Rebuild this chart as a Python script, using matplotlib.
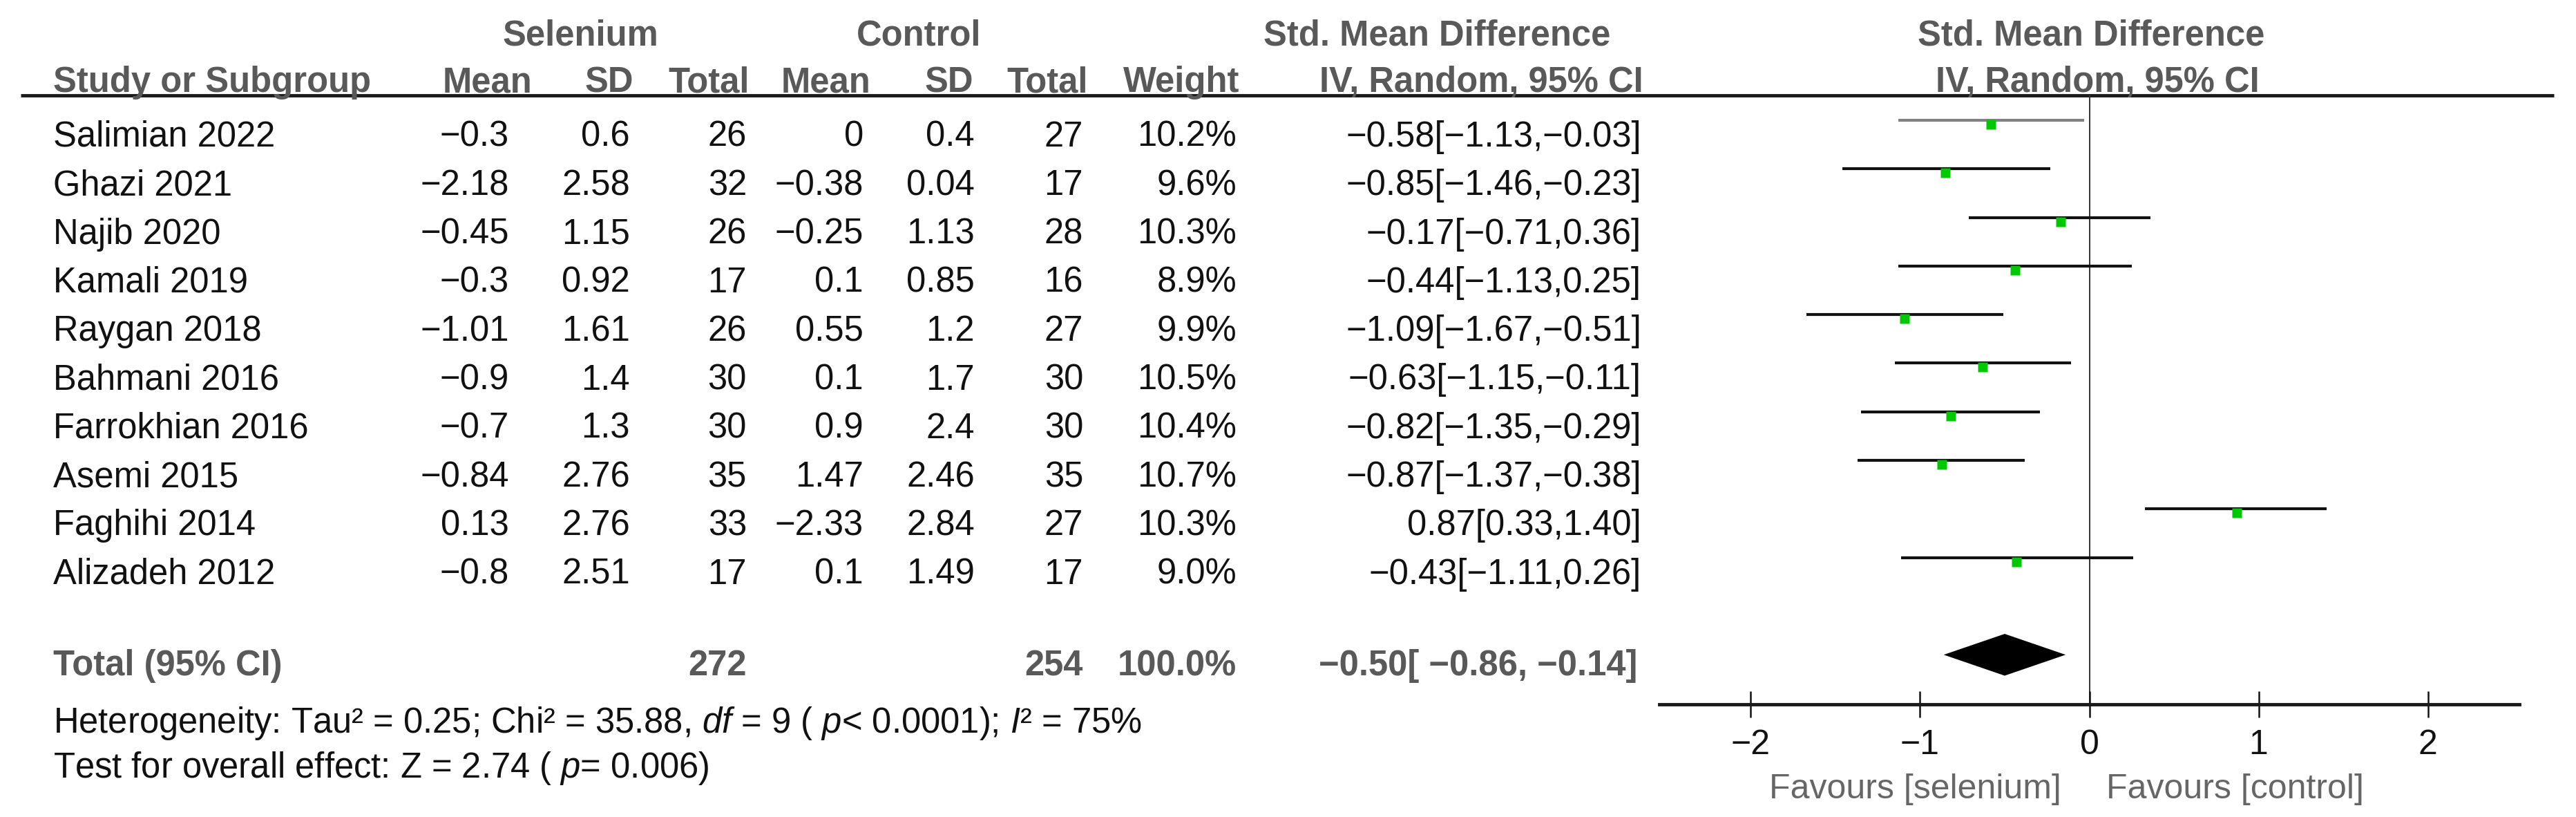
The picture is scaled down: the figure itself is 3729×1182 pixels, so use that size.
import matplotlib
matplotlib.use("Agg")
import matplotlib.pyplot as plt
import matplotlib.transforms as mtransforms

plt.rcParams['font.family'] = ['Liberation Sans', 'DejaVu Sans']
plt.rcParams['mathtext.fontset'] = 'custom'
plt.rcParams['mathtext.rm'] = 'Liberation Sans'
plt.rcParams['mathtext.it'] = 'Liberation Sans:italic'

# data
studies = ["Salimian 2022", "Ghazi 2021", "Najib 2020", "Kamali 2019", "Raygan 2018",
           "Bahmani 2016", "Farrokhian 2016", "Asemi 2015", "Faghihi 2014", "Alizadeh 2012"]
sel_mean = [-0.3, -2.18, -0.45, -0.3, -1.01, -0.9, -0.7, -0.84, 0.13, -0.8]
sel_sd = [0.6, 2.58, 1.15, 0.92, 1.61, 1.4, 1.3, 2.76, 2.76, 2.51]
sel_n = [26, 32, 26, 17, 26, 30, 30, 35, 33, 17]
ctl_mean = [0, -0.38, -0.25, 0.1, 0.55, 0.1, 0.9, 1.47, -2.33, 0.1]
ctl_sd = [0.4, 0.04, 1.13, 0.85, 1.2, 1.7, 2.4, 2.46, 2.84, 1.49]
ctl_n = [27, 17, 28, 16, 27, 30, 30, 35, 27, 17]
weight = [10.2, 9.6, 10.3, 8.9, 9.9, 10.5, 10.4, 10.7, 10.3, 9.0]
smd = [-0.58, -0.85, -0.17, -0.44, -1.09, -0.63, -0.82, -0.87, 0.87, -0.43]
ci_lo = [-1.13, -1.46, -0.71, -1.13, -1.67, -1.15, -1.35, -1.37, 0.33, -1.11]
ci_hi = [-0.03, -0.23, 0.36, 0.25, -0.51, -0.11, -0.29, -0.38, 1.40, 0.26]
total_sel = 272
total_ctl = 254
total_smd = -0.50
total_lo = -0.86
total_hi = -0.14
xticks = [-2, -1, 0, 1, 2]

W, H = 3729, 1182
GRAY = '#595959'
TXT = '#111111'
FS = 36.5

def m(s):
    return s.replace('-', '\u2212')

def g(v):
    return m('{:g}'.format(v))

fig = plt.figure(figsize=(W / 100, H / 100), dpi=100)

# text layer in pixel coordinates
tax = fig.add_axes([0, 0, 1, 1])
tax.set_xlim(0, W)
tax.set_ylim(H, 0)
tax.axis('off')

# headers
hdr = dict(color=GRAY, fontsize=FS, fontweight='bold', va='baseline')
tax.text(840, 65, "Selenium", ha='center', **hdr)
tax.text(1330, 65, "Control", ha='center', **hdr)
tax.text(2080, 65, "Std. Mean Difference", ha='center', **hdr)
tax.text(3027, 65, "Std. Mean Difference", ha='center', **hdr)
tax.text(77, 133, "Study or Subgroup", ha='left', **hdr)
col_x = [770, 917, 1085, 1260, 1409, 1575, 1794, 2379]
col_names = ["Mean", "SD", "Total", "Mean", "SD", "Total", "Weight", "IV, Random, 95% CI"]
for x, name in zip(col_x, col_names):
    tax.text(x, 133, name, ha='right', **hdr)
tax.text(3036, 133, "IV, Random, 95% CI", ha='center', **hdr)
tax.plot([30, 3697], [138, 138], color='#1a1a1a', lw=3.5, solid_capstyle='butt')

# study rows
val_x = [737, 912, 1081, 1250, 1411, 1568, 1790, 2376]
body = dict(color=TXT, fontsize=FS, va='baseline', ha='right')
for i, name in enumerate(studies):
    yb = 212 + 70.3 * i
    tax.text(77, yb, name, color=TXT, fontsize=FS, va='baseline', ha='left')
    cells = [g(sel_mean[i]), g(sel_sd[i]), str(sel_n[i]),
             g(ctl_mean[i]), g(ctl_sd[i]), str(ctl_n[i]),
             '{:.1f}%'.format(weight[i]),
             m('{:.2f}[{:.2f},{:.2f}]'.format(smd[i], ci_lo[i], ci_hi[i]))]
    for x, c in zip(val_x, cells):
        tax.text(x, yb, c, **body)

# total row
tot = dict(color=GRAY, fontsize=FS, fontweight='bold', va='baseline')
tax.text(77, 977, "Total (95% CI)", ha='left', **tot)
tax.text(1081, 977, str(total_sel), ha='right', **tot)
tax.text(1568, 977, str(total_ctl), ha='right', **tot)
tax.text(1790, 977, "100.0%", ha='right', **tot)
tax.text(2370, 977, m('{:.2f}[ {:.2f}, {:.2f}]'.format(total_smd, total_lo, total_hi)),
         ha='right', **tot)

tax.text(77, 1060, "Heterogeneity: Tau\u00b2 = 0.25; Chi\u00b2 = 35.88, $df$ = 9 ( $p$< 0.0001); $I$\u00b2 = 75%",
         color=TXT, fontsize=FS, va='baseline', ha='left')
tax.text(77, 1125, "Test for overall effect: Z = 2.74 ( $p$= 0.006)",
         color=TXT, fontsize=FS, va='baseline', ha='left')

tax.text(2984, 1155, "Favours [selenium]", color='#666666', fontsize=36, va='baseline', ha='right')
tax.text(3049, 1155, "Favours [control]", color='#666666', fontsize=36, va='baseline', ha='left')

# forest plot
left, right, top, bottom = 2402, 3647, 138, 1019
ax = fig.add_axes([left / W, (H - bottom) / H, (right - left) / W, (bottom - top) / H])
ax.patch.set_alpha(0)
ax.set_xlim(-2.54, 2.54)
ax.set_ylim(12.02, -0.512)
for s in ['top', 'left', 'right']:
    ax.spines[s].set_visible(False)
ax.spines['bottom'].set_linewidth(3.5)
ax.spines['bottom'].set_color('#1a1a1a')
ax.set_yticks([])
ax.set_xticks(xticks)
ax.set_xticklabels([m(str(t)) for t in xticks])
ax.tick_params(axis='x', direction='inout', length=28, width=1.8, pad=12,
               labelsize=36, colors='#111111')

ax.axvline(0, color='#333333', lw=1.4, zorder=1)

rows = list(range(len(studies)))
sq_tr = mtransforms.offset_copy(ax.transData, fig=fig, x=0, y=-6, units='dots')
for i in rows:
    col = '#808080' if i == 0 else '#111111'
    ax.plot([ci_lo[i], ci_hi[i]], [i, i], color=col, lw=3, solid_capstyle='butt', zorder=2)
    ax.plot([smd[i]], [i], marker='s', ms=10.5, color='#00c800', mec='none',
            transform=sq_tr, zorder=3)

ty = 11
hh = 0.43
ax.fill([total_lo, total_smd, total_hi, total_smd], [ty, ty - hh, ty, ty + hh],
        color='black', lw=0, zorder=3)

fig.savefig('out.png', dpi=100)
